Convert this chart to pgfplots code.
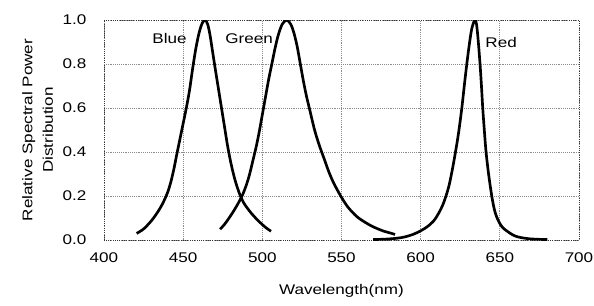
\documentclass[border=0pt]{standalone}
\usepackage{pgfplots}
\pgfplotsset{compat=1.18}
\usepackage{fontspec}
\setmainfont{Liberation Sans}[FakeStretch=1.22]
\begin{document}
\fontsize{10.5}{15.5}\selectfont
\begin{tikzpicture}
\useasboundingbox (-78pt,-48.75pt) rectangle (367.5pt,180pt);
\begin{axis}[
  at={(0,0)}, anchor=south west,
  scale only axis,
  width=356.25pt, height=165pt,
  xmin=400, xmax=700, ymin=0, ymax=1,
  xtick={400,450,...,700},
  ytick={0,0.2,0.4,0.6,0.8,1.0},
  /pgf/number format/assume math mode=true,
  y tick label style={/pgf/number format/fixed, /pgf/number format/fixed zerofill, /pgf/number format/precision=1, xshift=-9.5pt},
  x tick label style={/pgf/number format/fixed, /pgf/number format/precision=0, /pgf/number format/1000 sep={}, yshift=-6pt},
  tick label style={font=\fontsize{10.5}{12}\selectfont},
  label style={font=\fontsize{10.5}{15.5}\selectfont},
  major tick length=0pt,
  grid=major,
  grid style={densely dotted, black!45, line width=0.6pt},
  axis line style={densely dotted, black!80, line width=0.7pt},
  xlabel={Wavelength(nm)},
  xlabel style={yshift=-9pt},
  ylabel={Relative Spectral Power\\Distribution},
  ylabel style={align=center},
]
\addplot[black, line width=2pt, smooth, tension=0.5, no marks] coordinates {
(420.6,0.03)(425,0.05)(430,0.088)(434,0.128)(437,0.165)(440,0.213)(442,0.258)(444,0.318)(446,0.39)(448,0.46)(450,0.53)(452,0.6)(454,0.68)(456,0.78)(458,0.87)(460,0.94)(462,0.985)(463.8,1.0)(465.5,0.98)(467,0.93)(468.5,0.86)(470,0.79)(472,0.7)(474,0.61)(476,0.52)(478,0.43)(480,0.355)(482,0.293)(484,0.243)(486,0.203)(488,0.172)(490,0.15)(493,0.122)(496.4,0.095)(500,0.07)(503,0.052)(505.5,0.04)
};
\addplot[black, line width=2pt, smooth, tension=0.5, no marks] coordinates {
(473.3,0.049)(476,0.07)(479,0.1)(482,0.133)(485,0.17)(487.6,0.207)(490,0.252)(492,0.3)(494,0.36)(496,0.42)(498,0.49)(500,0.57)(502,0.65)(504,0.73)(506,0.8)(508,0.87)(510,0.93)(512.5,0.98)(515.4,1.0)(518,0.98)(520,0.94)(522,0.88)(524,0.8)(526,0.72)(528,0.65)(530,0.59)(533,0.5)(536,0.43)(539,0.37)(542,0.31)(545,0.26)(549.5,0.2)(554,0.15)(559.6,0.107)(565,0.08)(570,0.06)(576,0.042)(581.7,0.03)(583.8,0.025)
};
\addplot[black, line width=2pt, smooth, tension=0.5, no marks] coordinates {
(570,0.002)(578,0.004)(585,0.008)(590,0.014)(595,0.025)(599,0.038)(602,0.05)(605,0.065)(608,0.085)(610,0.105)(612,0.13)(614,0.16)(616,0.2)(618,0.25)(620,0.32)(622,0.4)(624,0.49)(626,0.6)(628,0.73)(630,0.85)(632,0.95)(633.5,0.99)(634.4,1.0)(635.3,0.98)(636.3,0.91)(637.5,0.8)(638.4,0.7)(639.2,0.6)(640.2,0.5)(641.3,0.4)(642.9,0.3)(644.9,0.2)(646.5,0.14)(648,0.105)(650,0.075)(652,0.055)(655,0.038)(658.5,0.022)(662,0.013)(668,0.006)(675,0.003)(680,0.002)
};
\node at (axis cs:441.4,0.914) {Blue};
\node at (axis cs:491.6,0.914) {Green};
\node at (axis cs:650.8,0.898) {Red};
\end{axis}
\end{tikzpicture}
\end{document}
